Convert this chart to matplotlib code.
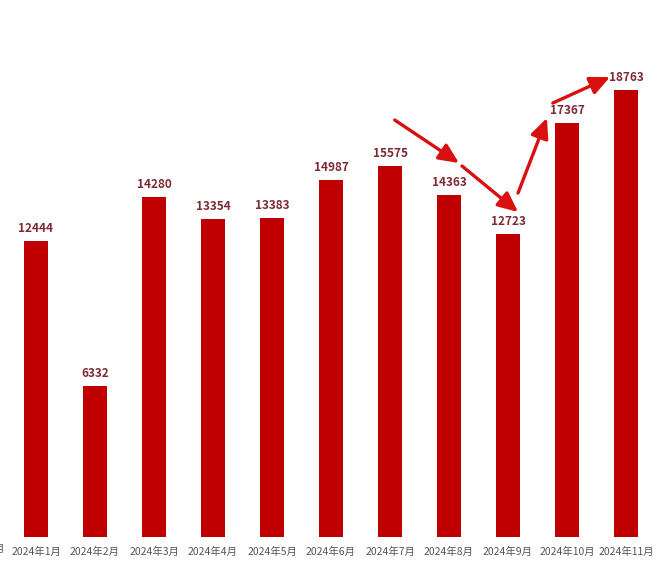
import matplotlib.pyplot as plt
from matplotlib.transforms import blended_transform_factory

plt.rcParams['font.family'] = ['Noto Sans CJK SC', 'DejaVu Sans']

prev_month = "2023年12月"
months = ["2024年1月", "2024年2月", "2024年3月", "2024年4月", "2024年5月", "2024年6月",
          "2024年7月", "2024年8月", "2024年9月", "2024年10月", "2024年11月"]
values = [12444, 6332, 14280, 13354, 13383, 14987, 15575, 14363, 12723, 17367, 18763]

bar_color = "#c00000"
label_color = "#7d2a33"

fig = plt.figure(figsize=(6.6, 5.72), dpi=100)
ax = fig.add_axes([0, 0.0612, 1, 0.9388])

xs = list(range(len(values)))
ax.bar(xs, values, width=0.41, color=bar_color)

for x, v in zip(xs, values):
    ax.text(x, v + 250, str(v), ha="center", va="bottom", fontsize=8.5,
            fontweight="bold", color=label_color)

ax.set_xticks(xs)
ax.set_xticklabels(months, fontsize=7.5, color="#555555")
ax.tick_params(axis="x", length=0, pad=7)
# label of the cut-off bar at the left edge
trans = blended_transform_factory(ax.transData, ax.transAxes)
ax.text(-1, -0.0135, prev_month, transform=trans, ha="center", va="top",
        fontsize=7.5, color="#555555", clip_on=False)
ax.set_yticks([])
ax.set_xlim(-0.61, 10.576)
ax.set_ylim(0, 22544)
for s in ax.spines.values():
    s.set_visible(False)

# trend arrows
arrows = [((6.08, 17506), (7.17, 15700)),
          ((7.22, 15575), (8.17, 13644)),
          ((8.17, 14441), (8.66, 17590)),
          ((8.76, 18220), (9.73, 19311))]
for start, end in arrows:
    ax.annotate("", xy=end, xytext=start,
                arrowprops=dict(arrowstyle="-|>,head_length=1.2,head_width=0.55",
                                color="#d81010", lw=2.4, shrinkA=0, shrinkB=0))

fig.savefig("out.png", dpi=100)
